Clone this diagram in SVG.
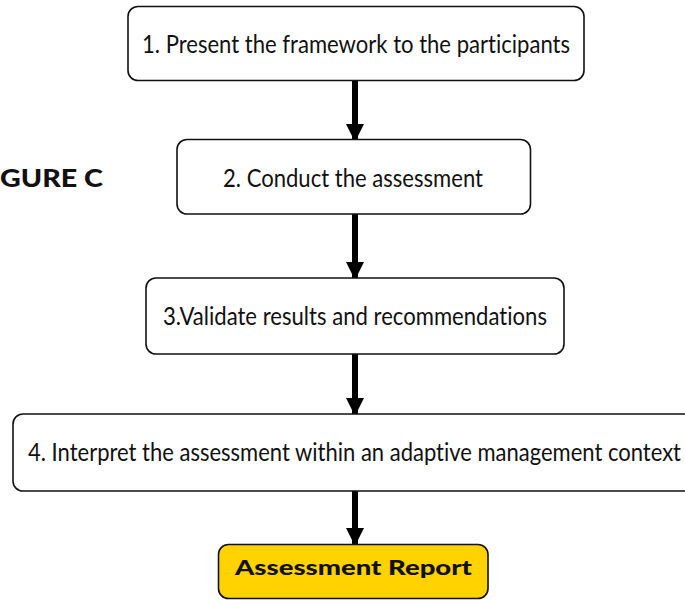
<svg xmlns="http://www.w3.org/2000/svg" width="685" height="600" viewBox="0 0 685 600">
<style>
.box{fill:#fff;stroke:#111;stroke-width:1.6}
.gold{fill:#FFD200;stroke:#111;stroke-width:1.6}
.t{font-family:Lato,"Open Sans","Liberation Sans",sans-serif;font-size:25px;fill:#111;text-anchor:middle;font-variant-ligatures:none}
.tb{font-family:Lato,"Liberation Sans",sans-serif;font-size:21px;font-weight:900;fill:#111;text-anchor:middle}
.fig{font-family:Lato,"Liberation Sans",sans-serif;font-size:24px;font-weight:900;fill:#111}
.edge{stroke:#000;stroke-width:6;fill:none}
</style>
<defs>
<marker id="ah" markerUnits="userSpaceOnUse" markerWidth="18" markerHeight="18" refX="17" refY="9" orient="auto">
<path d="M0,0 L18,9 L0,18 Z" fill="#000"/>
</marker>
</defs>
<rect width="685" height="600" fill="#fff"/>
<text class="fig" x="0" y="187" textLength="103" lengthAdjust="spacingAndGlyphs">GURE C</text>
<g id="connectors">
<line class="edge" x1="355" y1="81" x2="355" y2="141" marker-end="url(#ah)"/>
<line class="edge" x1="355" y1="214" x2="355" y2="279" marker-end="url(#ah)"/>
<line class="edge" x1="355" y1="354" x2="355" y2="415" marker-end="url(#ah)"/>
<line class="edge" x1="355" y1="491" x2="355" y2="545" marker-end="url(#ah)"/>
</g>
<g id="node1">
<rect class="box" x="128" y="6.5" width="456" height="74" rx="10"/>
<text class="t" x="356" y="53" textLength="428" lengthAdjust="spacingAndGlyphs">1. Present the framework to the participants</text>
</g>
<g id="node2">
<rect class="box" x="177" y="139.5" width="353.5" height="74.5" rx="10"/>
<text class="t" x="353" y="187" textLength="260" lengthAdjust="spacingAndGlyphs">2. Conduct the assessment</text>
</g>
<g id="node3">
<rect class="box" x="146" y="278" width="418" height="76" rx="10"/>
<text class="t" x="355" y="325" textLength="384" lengthAdjust="spacingAndGlyphs">3.Validate results and recommendations</text>
</g>
<g id="node4">
<rect class="box" x="13" y="414" width="684" height="77" rx="10"/>
<text class="t" x="354.5" y="461" textLength="653" lengthAdjust="spacingAndGlyphs">4. Interpret the assessment within an adaptive management context</text>
</g>
<g id="node5">
<rect class="gold" x="218.5" y="544.5" width="269.5" height="54" rx="10"/>
<text class="tb" x="353.5" y="575" textLength="237" lengthAdjust="spacingAndGlyphs">Assessment Report</text>
</g>
</svg>
